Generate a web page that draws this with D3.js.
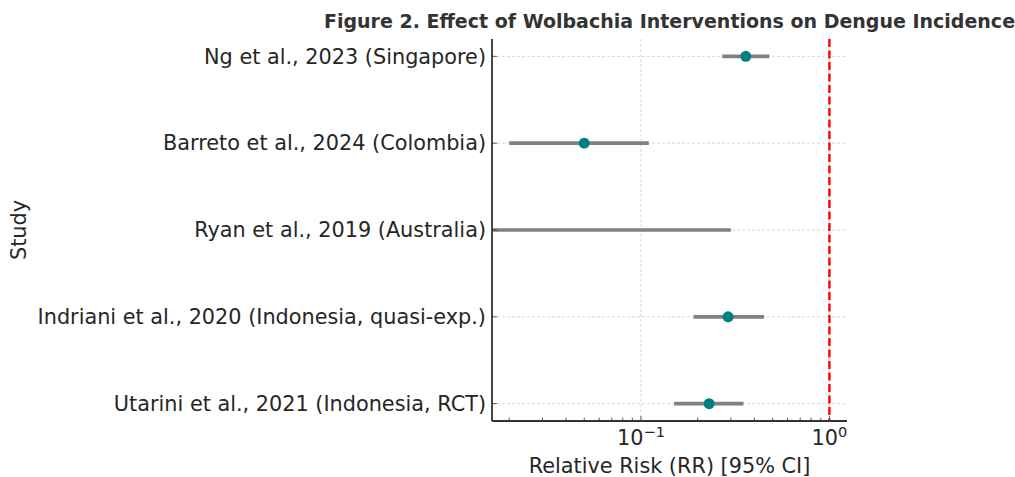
<!DOCTYPE html>
<html><head><meta charset="utf-8">
<script src="https://cdn.jsdelivr.net/npm/d3@7"></script>
<style>body{margin:0;background:#fff}svg{display:block}text{font-family:"DejaVu Sans",sans-serif}</style>
</head><body>
<svg id="c" width="1015" height="477"></svg>
<script>
const studies = ["Ng et al., 2023 (Singapore)","Barreto et al., 2024 (Colombia)","Ryan et al., 2019 (Australia)","Indriani et al., 2020 (Indonesia, quasi-exp.)","Utarini et al., 2021 (Indonesia, RCT)"];
const rr     = [0.36, 0.05, null, 0.29, 0.23];
const ciLow  = [0.27, 0.02, 0,    0.19, 0.15];
const ciHigh = [0.48, 0.11, 0.30, 0.45, 0.35];
const xTicks = [0.1, 1];
const xDomain = [0.0162, 1.24];
const refLine = 1;

const svg = d3.select("#c");
const L = 492, R = 847, T = 39, B = 421;
const FS = 20.8;
const x = d3.scaleLog().domain(xDomain).range([L, R]);
const y = d3.scaleLinear().domain([-0.2, 4.2]).range([B, T]);
const yi = i => y(studies.length - 1 - i);

// grid
const gridG = svg.append("g").attr("stroke", "#cfcfcf").attr("stroke-width", 0.8).attr("stroke-dasharray", "3,2");
xTicks.forEach(t => gridG.append("line").attr("x1", x(t)).attr("x2", x(t)).attr("y1", T).attr("y2", B));
studies.forEach((s, i) => gridG.append("line").attr("x1", L).attr("x2", R).attr("y1", yi(i)).attr("y2", yi(i)));

// ref line
svg.append("line").attr("x1", x(refLine)).attr("x2", x(refLine)).attr("y1", T).attr("y2", B)
  .attr("stroke", "#ff0000").attr("stroke-width", 2.4).attr("stroke-dasharray", "8,3.5");

// CI lines
const clampX = v => v <= xDomain[0] ? L : x(v);
studies.forEach((s, i) => {
  svg.append("line").attr("x1", clampX(ciLow[i])).attr("x2", x(ciHigh[i])).attr("y1", yi(i)).attr("y2", yi(i))
    .attr("stroke", "#808080").attr("stroke-width", 3.7);
});
studies.forEach((s, i) => {
  if (rr[i] != null) svg.append("circle").attr("cx", x(rr[i])).attr("cy", yi(i)).attr("r", 5.5).attr("fill", "#008080");
});

// minor ticks (inward)
const minor = [];
for (let e = -2; e <= 0; e++) for (let m = 1; m <= 9; m++) { const v = m * Math.pow(10, e); if (v >= xDomain[0] && v <= xDomain[1]) minor.push(v); }
const tickG = svg.append("g").attr("stroke", "#333").attr("stroke-width", 0.8);
minor.forEach(v => {
  const major = xTicks.includes(+v.toPrecision(6));
  tickG.append("line").attr("x1", x(v)).attr("x2", x(v)).attr("y1", B).attr("y2", B - (major ? 5 : 3.5));
});
studies.forEach((s, i) => tickG.append("line").attr("x1", L).attr("x2", L + 5).attr("y1", yi(i)).attr("y2", yi(i)));

// spines
svg.append("line").attr("x1", L).attr("x2", L).attr("y1", T).attr("y2", B).attr("stroke", "#333").attr("stroke-width", 1.8);
svg.append("line").attr("x1", L).attr("x2", R).attr("y1", B).attr("y2", B).attr("stroke", "#333").attr("stroke-width", 1.8);

// y labels
studies.forEach((s, i) => svg.append("text").attr("x", L - 6).attr("y", yi(i)).attr("dy", "0.35em")
  .attr("text-anchor", "end").attr("font-size", FS).attr("fill", "#262626").text(s));

// x tick labels
xTicks.forEach(t => {
  const e = Math.round(Math.log10(t));
  const tx = svg.append("text").attr("x", x(t)).attr("y", 445).attr("text-anchor", "middle").attr("font-size", FS).attr("fill", "#262626");
  tx.append("tspan").text("10");
  tx.append("tspan").attr("dy", -8.5).attr("font-size", 14.6).text(e < 0 ? "\u2212" + (-e) : String(e));
});

svg.append("text").attr("x", (L + R) / 2).attr("y", 473).attr("text-anchor", "middle").attr("font-size", FS).attr("fill", "#262626").text("Relative Risk (RR) [95% CI]");
svg.append("text").attr("transform", `translate(26,${(T + B) / 2}) rotate(-90)`).attr("text-anchor", "middle").attr("font-size", FS).attr("fill", "#262626").text("Study");
svg.append("text").attr("x", (L + R) / 2).attr("y", 28).attr("text-anchor", "middle").attr("font-size", 19).attr("font-weight", "bold").attr("fill", "#333").text("Figure 2. Effect of Wolbachia Interventions on Dengue Incidence");
</script>
</body></html>
